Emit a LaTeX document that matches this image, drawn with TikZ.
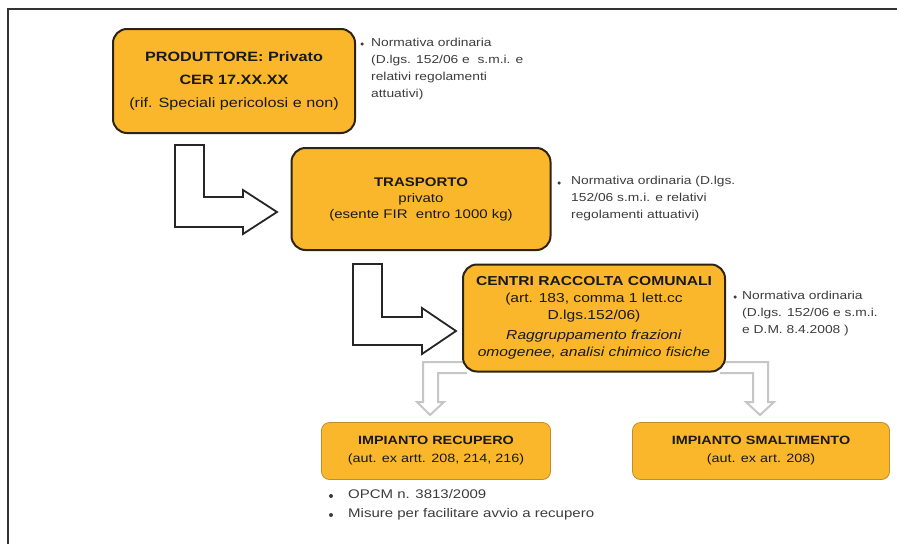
\documentclass[tikz,border=0pt]{standalone}
\usepackage{fontspec}
\setmainfont{Liberation Sans}[FakeStretch=1.2]
\usepackage{xcolor}
\usetikzlibrary{positioning}
\definecolor{boxfill}{RGB}{250,183,44}
\definecolor{boxline}{RGB}{45,35,20}
\definecolor{lowline}{RGB}{195,140,40}
\definecolor{sidetext}{RGB}{60,60,60}

\begin{document}
\begin{tikzpicture}[x=1pt,y=-1pt,
  mainbox/.style={draw=boxline,line width=2pt,fill=boxfill,rounded corners=14pt,align=center,inner sep=0pt,text=black!90},
  lowbox/.style={draw=lowline,line width=0.8pt,fill=boxfill,rounded corners=8pt,align=center,inner sep=0pt,minimum height=57pt,text=black!90,font=\fontsize{12}{18}\selectfont},
  sidenote/.style={anchor=north west,align=left,inner sep=0pt,text=sidetext,font=\fontsize{11.5}{17}\selectfont},
  dot/.style={circle,fill=sidetext,inner sep=0pt,minimum size=3.5pt},
  bigarrow/.style={draw=black!85,line width=1.8pt,fill=white,line join=miter},
  greyarrow/.style={draw=gray!45,line width=2pt,fill=white}]
  \useasboundingbox (0,0) rectangle (897,544);
  % frame
  \draw[black!80,line width=1.5pt] (897,9) -- (8,9) -- (8,544);
  % grey arrows under the collection box
  \draw[greyarrow] (467,362) -- (423,362) -- (423,402) -- (417,402) -- (430,415)
    -- (444,402) -- (438,402) -- (438,373) -- (467,373);
  \draw[greyarrow] (720,362) -- (768,362) -- (768,402) -- (774,402) -- (760,415)
    -- (746,402) -- (753,402) -- (753,373) -- (720,373);
  % black arrows
  \draw[bigarrow] (175,145) -- (204,145) -- (204,197) -- (243,197) -- (243,190)
    -- (277,212) -- (243,234) -- (243,227) -- (175,227) -- cycle;
  \draw[bigarrow] (353,264) -- (382,264) -- (382,317) -- (422,317) -- (422,308)
    -- (456,331) -- (422,354) -- (422,345) -- (353,345) -- cycle;
  % boxes
  \node[mainbox,minimum width=242pt,minimum height=104pt,font=\fontsize{13.5}{23}\selectfont] (prod) at (234,81)
    {\textbf{PRODUTTORE: Privato}\\\textbf{CER 17.XX.XX}\\(rif. Speciali pericolosi e non)};
  \node[mainbox,minimum width=259pt,minimum height=102pt,font=\fontsize{12.5}{16}\selectfont] (trasp) at (421,199)
    {\textbf{TRASPORTO}\\privato\\(esente FIR\ \ entro 1000 kg)};
  \node[mainbox,minimum width=262pt,minimum height=107pt,font=\fontsize{13}{17}\selectfont] (centri) at (594,318)
    {\textbf{CENTRI RACCOLTA COMUNALI}\\(art. 183, comma 1 lett.cc\\D.lgs.152/06)\\[3pt]
     \textit{Raggruppamento frazioni}\\\textit{omogenee, analisi chimico fisiche}};
  \node[lowbox,minimum width=229pt] (recup) at (436,451)
    {\textbf{IMPIANTO RECUPERO}\\(aut. ex artt. 208, 214, 216)};
  \node[lowbox,minimum width=257pt] (smalt) at (761,451)
    {\textbf{IMPIANTO SMALTIMENTO}\\(aut. ex art. 208)};
  % notes beside the boxes
  \node[dot] (d1) at (362,44) {};
  \node[sidenote] (n1) at (371,38)
    {Normativa ordinaria\\(D.lgs. 152/06 e\ \ s.m.i. e\\relativi regolamenti\\attuativi)};
  \node[dot] (d2) at (559,183) {};
  \node[sidenote] (n2) at (571,176)
    {Normativa ordinaria (D.lgs.\\152/06 s.m.i. e relativi\\regolamenti attuativi)};
  \node[dot] (d3) at (735,297) {};
  \node[sidenote] (n3) at (742,291)
    {Normativa ordinaria\\(D.lgs. 152/06 e s.m.i.\\e D.M. 8.4.2008 )};
  \node[dot,minimum size=4pt] (d4) at (331,496) {};
  \node[dot,minimum size=4pt] (d5) at (331,515) {};
  \node[sidenote,font=\fontsize{12.5}{19}\selectfont] (n4) at (348,489)
    {OPCM n. 3813/2009\\Misure per facilitare avvio a recupero};
\end{tikzpicture}
\end{document}
